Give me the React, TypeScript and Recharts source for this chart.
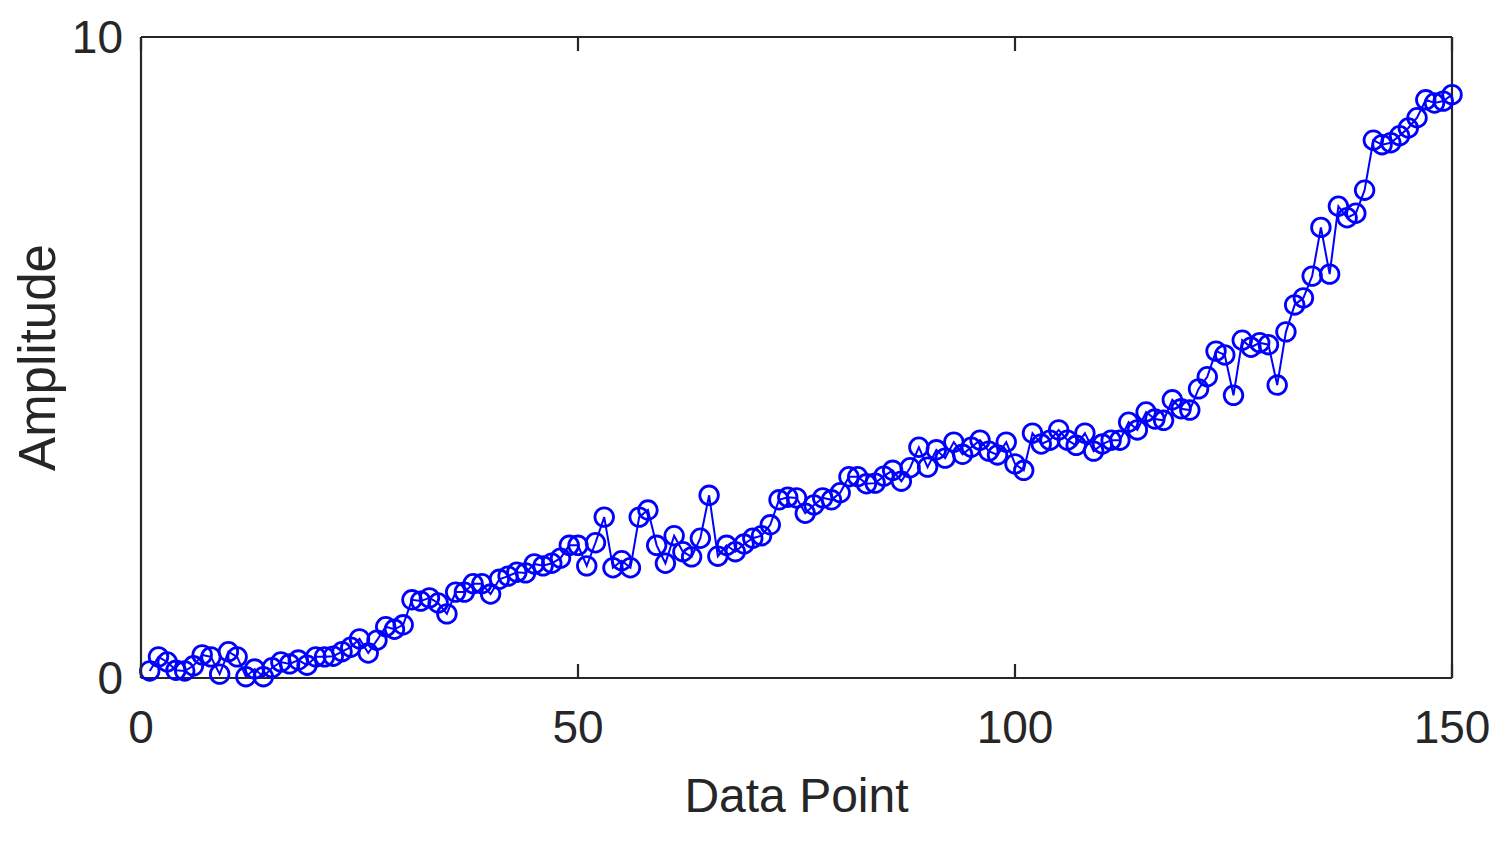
import { Label, Line, LineChart, XAxis, YAxis } from "recharts";

// x index of each sample, 1..150
const dataPoints = Array.from({ length: 150 }, (_, i) => i + 1);

// amplitude, one value per data point
const amplitude = [
  0.11, 0.33, 0.25, 0.12, 0.11, 0.19, 0.36, 0.33, 0.06, 0.41,
  0.33, 0.02, 0.14, 0.02, 0.16, 0.25, 0.22, 0.28, 0.2, 0.33,
  0.33, 0.34, 0.41, 0.48, 0.61, 0.39, 0.59, 0.8, 0.76, 0.83,
  1.22, 1.2, 1.25, 1.17, 1.0, 1.34, 1.34, 1.47, 1.47, 1.31,
  1.54, 1.59, 1.65, 1.64, 1.78, 1.75, 1.79, 1.87, 2.07, 2.07,
  1.75, 2.11, 2.51, 1.72, 1.83, 1.72, 2.51, 2.62, 2.07, 1.79,
  2.22, 1.97, 1.89, 2.18, 2.85, 1.9, 2.07, 1.97, 2.09, 2.18,
  2.22, 2.39, 2.78, 2.82, 2.81, 2.57, 2.7, 2.81, 2.78, 2.89,
  3.14, 3.14, 3.03, 3.04, 3.15, 3.24, 3.07, 3.28, 3.6, 3.29,
  3.56, 3.43, 3.68, 3.49, 3.6, 3.71, 3.54, 3.48, 3.68, 3.34,
  3.24, 3.82, 3.65, 3.71, 3.87, 3.71, 3.63, 3.82, 3.54, 3.65,
  3.71, 3.71, 3.99, 3.87, 4.15, 4.04, 4.02, 4.34, 4.2, 4.18,
  4.51, 4.7, 5.1, 5.04, 4.41, 5.27, 5.16, 5.23, 5.2, 4.57,
  5.4, 5.82, 5.93, 6.27, 7.03, 6.3, 7.36, 7.18, 7.25, 7.61,
  8.39, 8.32, 8.35, 8.46, 8.58, 8.74, 9.02, 8.97, 9.0, 9.1,
];

const xTicks = [0, 50, 100, 150];
const yTicks = [0, 10];

const data = dataPoints.map((x, i) => ({ x, y: amplitude[i] }));

const INK = "#262626";
const BLUE = "#0000ff";
const FONT = "'Liberation Sans', Arial, Helvetica, sans-serif";
const TICK_LEN = 14;
const BOTTOM_GAP = 32;
const axisLine = { stroke: INK, strokeWidth: 2.2 };

// MATLAB-style ticks: short marks pointing into the plot box
function BottomTick({ x, y, payload }: any) {
  const axisY = y - BOTTOM_GAP;
  return (
    <g>
      <line x1={x} x2={x} y1={axisY} y2={axisY - TICK_LEN} stroke={INK} strokeWidth={2.2} />
      <text x={x} y={y} dy="0.71em" textAnchor="middle" fill={INK} fontSize={46} fontFamily={FONT}>
        {payload.value}
      </text>
    </g>
  );
}

function TopTick({ x, y }: any) {
  return <line x1={x} x2={x} y1={y} y2={y + TICK_LEN} stroke={INK} strokeWidth={2.2} />;
}

function LeftTick({ x, y, payload }: any) {
  return (
    <text x={x} y={y} dy="0.355em" textAnchor="end" fill={INK} fontSize={46} fontFamily={FONT}>
      {payload.value}
    </text>
  );
}

export default function App() {
  return (
    <LineChart
      width={1494}
      height={825}
      data={data}
      margin={{ top: 28, right: 49, bottom: 0, left: 0 }}
      style={{ background: "#fff" }}
    >
      <XAxis
        xAxisId="bottom"
        dataKey="x"
        type="number"
        domain={[0, 150]}
        ticks={xTicks}
        orientation="bottom"
        height={155}
        axisLine={axisLine}
        tickLine={false}
        tickSize={0}
        tickMargin={BOTTOM_GAP}
        tick={<BottomTick />}
        interval={0}
      >
        <Label
          content={({ viewBox }: any) => (
            <text
              x={viewBox.x + viewBox.width / 2}
              y={viewBox.y + 134}
              textAnchor="middle"
              fill={INK}
              fontSize={48}
              fontFamily={FONT}
            >
              Data Point
            </text>
          )}
        />
      </XAxis>
      <XAxis
        xAxisId="top"
        dataKey="x"
        type="number"
        domain={[0, 150]}
        ticks={xTicks}
        orientation="top"
        height={1}
        axisLine={axisLine}
        tickLine={false}
        tickSize={0}
        tickMargin={0}
        tick={<TopTick />}
        interval={0}
      />
      <YAxis
        yAxisId="left"
        type="number"
        domain={[0, 10]}
        ticks={yTicks}
        width={133}
        axisLine={axisLine}
        tickLine={false}
        tickSize={0}
        tickMargin={18}
        tick={<LeftTick />}
        interval={0}
      >
        <Label
          content={({ viewBox }: any) => {
            const cx = 47;
            const cy = viewBox.y + viewBox.height / 2;
            return (
              <text
                x={cx}
                y={cy}
                transform={`rotate(-90, ${cx}, ${cy})`}
                textAnchor="middle"
                fill={INK}
                fontSize={51}
                fontFamily={FONT}
              >
                Amplitude
              </text>
            );
          }}
        />
      </YAxis>
      <YAxis
        yAxisId="right"
        orientation="right"
        type="number"
        domain={[0, 10]}
        ticks={yTicks}
        width={1}
        axisLine={axisLine}
        tickLine={false}
        tick={false}
      />
      <Line
        xAxisId="bottom"
        yAxisId="left"
        dataKey="y"
        type="linear"
        stroke={BLUE}
        strokeWidth={2}
        dot={{ r: 9.3, stroke: BLUE, strokeWidth: 2.8, fill: "none" }}
        isAnimationActive={false}
      />
    </LineChart>
  );
}
